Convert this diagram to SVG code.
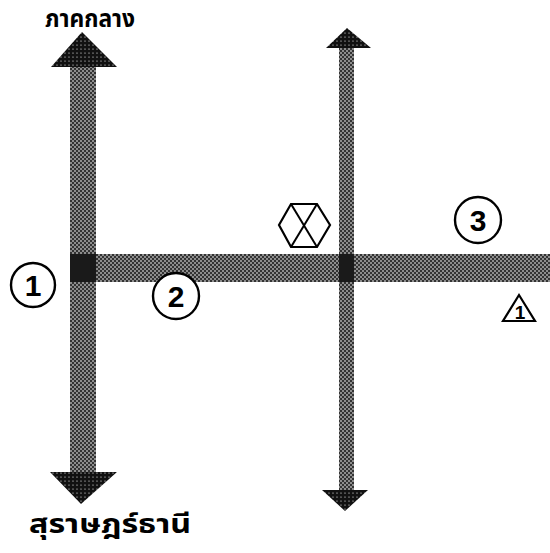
<svg xmlns="http://www.w3.org/2000/svg" width="550" height="553" viewBox="0 0 550 553">
<defs>
<pattern id="ht" width="4" height="4" patternUnits="userSpaceOnUse">
<rect width="4" height="4" fill="#333"/>
<circle cx="1" cy="1" r="0.8" fill="#fff"/>
<circle cx="3" cy="3" r="0.8" fill="#fff"/>
</pattern>
<pattern id="htd" width="4" height="4" patternUnits="userSpaceOnUse">
<rect width="4" height="4" fill="#111"/>
<circle cx="1" cy="1" r="0.6" fill="#fff"/>
</pattern>
<style>
.bar{fill:url(#ht)}
.head{fill:url(#htd)}
.knot{fill:#1a1a1a}
.ring{fill:#fff;stroke:#000;stroke-width:2.4}
.num{font-family:"Liberation Sans",Arial,sans-serif;font-weight:bold;font-size:30px;text-anchor:middle;fill:#000}
.lbl{font-family:"Noto Sans Thai","Noto Sans","DejaVu Sans",sans-serif;font-weight:bold;fill:#000}
.sym{fill:#fff;stroke:#000;stroke-width:2.2}
</style>
</defs>
<g id="connectors">
<rect class="bar" x="70" y="66" width="26" height="407"/>
<polygon class="head" points="82,32 117,67 51,67"/>
<polygon class="head" points="50,472 117,472 81,504"/>
<rect class="bar" x="339" y="47" width="15" height="444"/>
<polygon class="head" points="347,28 371,48 326,48"/>
<polygon class="head" points="322,490 368,490 345,511"/>
<rect class="bar" x="70" y="254" width="480" height="28"/>
<rect class="knot" x="70" y="254" width="26" height="28"/>
<rect class="knot" x="339" y="254" width="15" height="28"/>
</g>
<g id="label-top"><text class="lbl" x="90" y="27" font-size="25" text-anchor="middle" textLength="90" lengthAdjust="spacingAndGlyphs">ภาคกลาง</text></g>
<g id="label-bottom"><text class="lbl" x="110" y="533" font-size="26" text-anchor="middle" textLength="162" lengthAdjust="spacingAndGlyphs">สุราษฎร์ธานี</text></g>
<g id="node-1"><circle class="ring" cx="33" cy="285" r="22"/><text class="num" x="33" y="296">1</text></g>
<g id="node-2"><circle class="ring" cx="176" cy="296" r="23"/><text class="num" x="176" y="307">2</text></g>
<g id="node-3"><circle class="ring" cx="478" cy="220" r="23"/><text class="num" x="478" y="231">3</text></g>
<g id="node-hex">
<polygon class="sym" points="291,204 317,204 330,225 317,247 291,247 279,225"/>
<line x1="291" y1="204" x2="317" y2="247" stroke="#000" stroke-width="2"/>
<line x1="317" y1="204" x2="291" y2="247" stroke="#000" stroke-width="2"/>
</g>
<g id="node-tri">
<polygon class="sym" points="519,295 535,321 503,321"/>
<text x="520" y="319" font-family="Liberation Sans,Arial,sans-serif" font-weight="bold" font-size="19" text-anchor="middle">1</text>
</g>
</svg>
